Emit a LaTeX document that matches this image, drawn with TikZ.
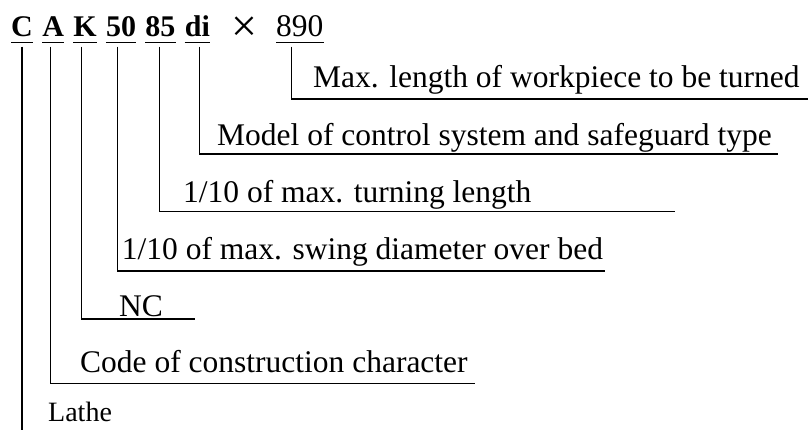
\documentclass[tikz,border=0pt]{standalone}
\usepackage{fontspec}
\setmainfont{Liberation Serif}
\usetikzlibrary{positioning}
\newcommand{\codeFont}[0]{\bfseries\fontsize{30}{32}\selectfont}
\newcommand{\descFont}[0]{\fontsize{31.5}{34}\selectfont}
\newcommand{\leader}[3]{\draw[leader] ([xshift=#2,yshift=-4pt]#1.south) |- (#3);}

\begin{document}
\begin{tikzpicture}[x=1pt, y=1pt]
  \tikzset{code/.style={inner xsep=0pt, inner ysep=5.5pt, text depth=0pt, font=\codeFont},
           desc/.style={inner sep=0pt, anchor=base west, font=\descFont},
           leader/.style={line width=1.1pt}}
  \useasboundingbox (0,0) rectangle (808,430);
  \node[code, anchor=base west] (tC) at (11,393) {C};
  \node[code, base right=9pt of tC] (tA) {A};
  \node[code, base right=9pt of tA] (tK) {K};
  \node[code, base right=9pt of tK] (t50) {50};
  \node[code, base right=9pt of t50] (t85) {85};
  \node[code, base right=9pt of t85] (tdi) {di};
  \node[inner sep=0pt, font=\fontsize{46}{48}\selectfont] (tx) at (244,401) {×};
  \node[code, font=\descFont, anchor=base west] (t890) at (276,393) {890};
  \foreach \t in {tC,tA,tK,t50,t85,tdi,t890}
    \draw[leader] (\t.south west) -- (\t.south east);
  \node[desc] (l890) at (313,342) {Max. length of workpiece to be turned};
  \node[desc] (ldi) at (217,284) {Model of control system and safeguard type};
  \node[desc] (l85) at (183,227) {1/10 of max. turning length};
  \node[desc] (l50) at (121.7,170) {1/10 of max. swing diameter over bed};
  \node[desc] (lK) at (119,113.3) {NC};
  \node[desc] (lA) at (80,57) {Code of construction character};
  \node[desc, text depth=0pt, font=\fontsize{28}{30}\selectfont] (lC) at (48,8) {Lathe};
  \coordinate (e890) at (808,331);
  \coordinate (edi) at (778,276);
  \coordinate (e85) at (675,218.3);
  \coordinate (e50) at (605,159);
  \coordinate (eK) at (195,111);
  \coordinate (eA) at (475,46.7);
  \coordinate (eC) at (21,0);
  \leader{t890}{-8pt}{e890}
  \leader{tdi}{2.5pt}{edi}
  \leader{t85}{-1pt}{e85}
  \leader{t50}{-4pt}{e50}
  \leader{tK}{-3.5pt}{eK}
  \leader{tA}{-2.5pt}{eA}
  \draw[leader] ([yshift=-4pt]tC.south) -- (tC.south |- eC);
\end{tikzpicture}
\end{document}
